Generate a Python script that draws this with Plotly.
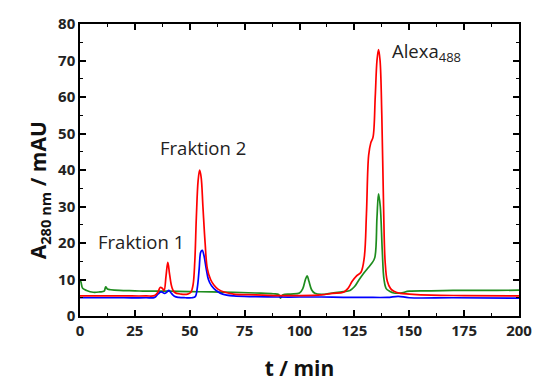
import plotly.graph_objects as go

# Red trace
red_t = [0, 10, 20, 30, 34, 35.5, 36.5, 37.5, 38.3, 39.2, 40, 40.8, 41.8, 43, 46, 49, 50.5, 51.5, 52.3, 53, 53.8, 54.5, 55.2, 56, 57, 58, 59.5, 61, 63, 66, 70, 80, 90, 100, 110, 115, 120, 122, 124, 126, 128, 129.5, 130.5, 131.5, 132.5, 133.5, 134.5, 135.3, 136, 136.7, 137.5, 138.3, 139, 140, 141.5, 143, 146, 150, 160, 175, 200]
red_v = [5.5, 5.5, 5.5, 5.5, 5.6, 6.5, 7.8, 7.6, 7.0, 11.0, 14.7, 11.5, 8.0, 6.5, 6.0, 6.0, 6.5, 8.5, 15, 27, 37, 40, 38, 30, 20, 13, 10, 8.5, 7.3, 6.5, 6.0, 5.8, 5.6, 5.6, 5.8, 6.2, 6.5, 7.5, 9.5, 11.0, 12.0, 16, 28, 44, 47.5, 49, 60, 70, 73, 70, 55, 30, 15, 9.5, 7.5, 6.8, 6.2, 6.0, 5.7, 5.6, 5.5]

# Blue trace
blue_t = [0, 10, 20, 30, 34, 35.5, 37, 38.5, 39.5, 40.5, 41.5, 43, 45, 48, 51, 52.5, 53.5, 54.3, 55, 55.7, 56.5, 57.5, 58.5, 60, 62, 65, 70, 80, 90, 100, 110, 120, 130, 140, 145, 150, 170, 200]
blue_v = [5.0, 5.0, 5.0, 5.0, 5.1, 6.0, 6.6, 6.2, 6.5, 7.0, 6.3, 5.4, 5.1, 5.0, 5.0, 5.3, 8.0, 13, 17.5, 18, 16.5, 13, 10, 8.2, 7.0, 6.0, 5.5, 5.3, 5.2, 5.2, 5.2, 5.1, 5.1, 5.1, 5.4, 5.0, 5.0, 4.9]

# Green trace
green_t = [0, 0.5, 1.2, 3, 6, 9, 11, 11.7, 12.5, 14, 18, 25, 30, 40, 50, 60, 70, 80, 88, 90.5, 91.3, 92.5, 96, 100, 101.5, 102.7, 103.5, 104.3, 105.5, 107, 110, 115, 120, 123, 125, 127, 129, 131, 133, 134.3, 135.3, 136, 136.8, 137.7, 138.5, 139.5, 141, 143, 146, 150, 160, 170, 180, 190, 200]
green_v = [10, 9.2, 7.6, 7.0, 6.5, 6.6, 6.8, 8.0, 7.4, 7.2, 7.0, 6.9, 6.8, 6.8, 6.7, 6.6, 6.5, 6.3, 6.1, 5.9, 4.9, 5.8, 6.0, 6.3, 7.5, 10.0, 11.0, 9.5, 7.2, 6.2, 5.9, 6.3, 6.7, 7.0, 8.0, 9.8, 11.5, 13.0, 14.5, 16, 27, 33.5, 30, 18, 10, 7.5, 6.8, 6.3, 6.3, 6.8, 6.9, 7.0, 7.0, 7.0, 7.1]

x_ticks = [0, 25, 50, 75, 100, 125, 150, 175, 200]
y_ticks = [0, 10, 20, 30, 40, 50, 60, 70, 80]

fig = go.Figure()
fig.add_trace(go.Scatter(x=green_t, y=green_v, mode="lines", line=dict(color="#1e8c1e", width=1.7), line_shape="spline"))
fig.add_trace(go.Scatter(x=blue_t, y=blue_v, mode="lines", line=dict(color="#0000ff", width=1.7), line_shape="spline"))
fig.add_trace(go.Scatter(x=red_t, y=red_v, mode="lines", line=dict(color="#ff0000", width=1.7), line_shape="spline"))

axis_common = dict(
    showline=True, linecolor="black", linewidth=1.5, mirror="allticks",
    ticks="inside", ticklen=6, tickwidth=1.5, tickcolor="black",
    showgrid=False, zeroline=False, automargin=False,
    tickfont=dict(family="Open Sans", size=15, color="#222", weight="bold"),
)

fig.update_xaxes(range=[0, 200], tickvals=x_ticks,
                 minor=dict(ticks="inside", ticklen=3, dtick=12.5, tickcolor="black", tickwidth=1.2),
                 title=dict(text="<b>t / min</b>", font=dict(family="Open Sans", size=21, color="#111"), standoff=26),
                 **axis_common)
fig.update_yaxes(range=[0, 80], tickvals=y_ticks,
                 minor=dict(ticks="inside", ticklen=3, dtick=5, tickcolor="black", tickwidth=1.2),
                 **axis_common)

# y-axis title placed as rotated annotation (offset below plot centre as in reference)
fig.add_annotation(xref="paper", yref="paper", x=-0.13, y=0.43,
                   text="<b>A<sub>280 nm</sub> / mAU</b>", textangle=-90, showarrow=False,
                   font=dict(family="Open Sans", size=21, color="#111"))

ann_font = dict(family="Open Sans", size=18.5, color="#222")
fig.add_annotation(x=27.8, y=20.5, text="Fraktion 1", showarrow=False, font=ann_font)
fig.add_annotation(x=56, y=46.3, text="Fraktion 2", showarrow=False, font=ann_font)
fig.add_annotation(x=141.3, y=72.3, text="Alexa<sub>488</sub>", showarrow=False, font=ann_font, xanchor="left")

fig.update_layout(
    width=533, height=382, showlegend=False,
    margin=dict(l=80, r=14, t=24, b=66),
    plot_bgcolor="white", paper_bgcolor="white",
)

fig.write_html("out.html")
